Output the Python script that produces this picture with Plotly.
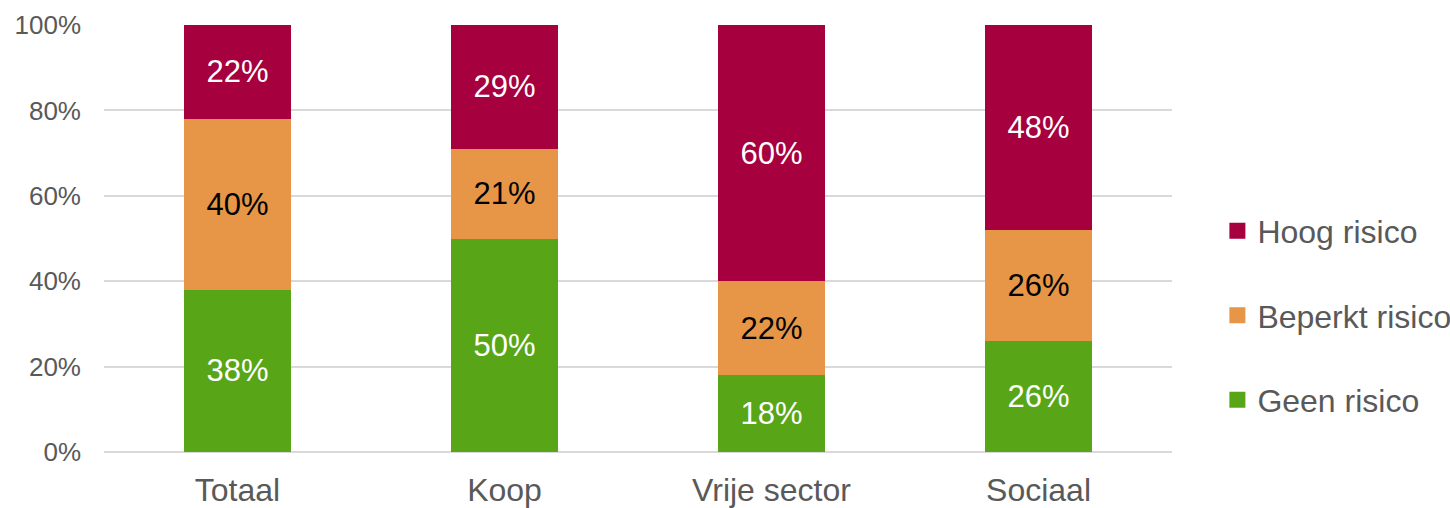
import plotly.graph_objects as go

categories = ["Totaal", "Koop", "Vrije sector", "Sociaal"]
geen = [38, 50, 18, 26]
beperkt = [40, 21, 22, 26]
hoog = [22, 29, 60, 48]
y_ticks = [0, 20, 40, 60, 80, 100]
y_tick_labels = ["0%", "20%", "40%", "60%", "80%", "100%"]

series = [
    ("Geen risico", geen, "#58A618", "white"),
    ("Beperkt risico", beperkt, "#E69646", "black"),
    ("Hoog risico", hoog, "#A6003F", "white"),
]

FONT = "Liberation Sans, Arial, sans-serif"
fig = go.Figure()
for name, vals, col, tcol in series:
    fig.add_trace(go.Bar(
        x=categories, y=vals, name=name, marker=dict(color=col, line=dict(width=0)),
        text=[f"{v}%" for v in vals], textposition="inside", insidetextanchor="middle",
        textfont=dict(color=tcol, size=31, family=FONT), textangle=0,
        showlegend=False, hoverinfo="skip",
    ))
for name, vals, col, tcol in reversed(series):
    fig.add_trace(go.Scatter(
        x=[None], y=[None], mode="markers", name=name, legendgroup=name,
        marker=dict(symbol="square", size=16, color=col),
    ))

fig.update_layout(
    barmode="stack", bargap=0.6,
    width=1450, height=508,
    margin=dict(l=104, r=278, t=25, b=56, autoexpand=False),
    plot_bgcolor="white", paper_bgcolor="white",
    font=dict(family=FONT, color="#595959"),
    legend=dict(
        x=1.0425, xanchor="left", y=0.32, yanchor="middle",
        traceorder="grouped", tracegroupgap=40,
        font=dict(size=32, color="#595959", family=FONT),
        itemsizing="trace", bgcolor="rgba(0,0,0,0)",
    ),
    xaxis=dict(
        tickfont=dict(size=32, color="#595959"), showgrid=False, showline=False,
        ticks="", ticklabelstandoff=16, automargin=False,
    ),
    yaxis=dict(
        range=[0, 100], tickvals=y_ticks, ticktext=y_tick_labels,
        tickfont=dict(size=26, color="#595959"), showgrid=True, gridcolor="#D9D9D9",
        gridwidth=1.5, zeroline=True, zerolinecolor="#D9D9D9", zerolinewidth=1.5,
        showline=False, ticks="", ticklabelstandoff=22, automargin=False,
    ),
)
fig.write_html("out.html", post_script="document.body.style.margin='0';",
               config={"displayModeBar": False})
